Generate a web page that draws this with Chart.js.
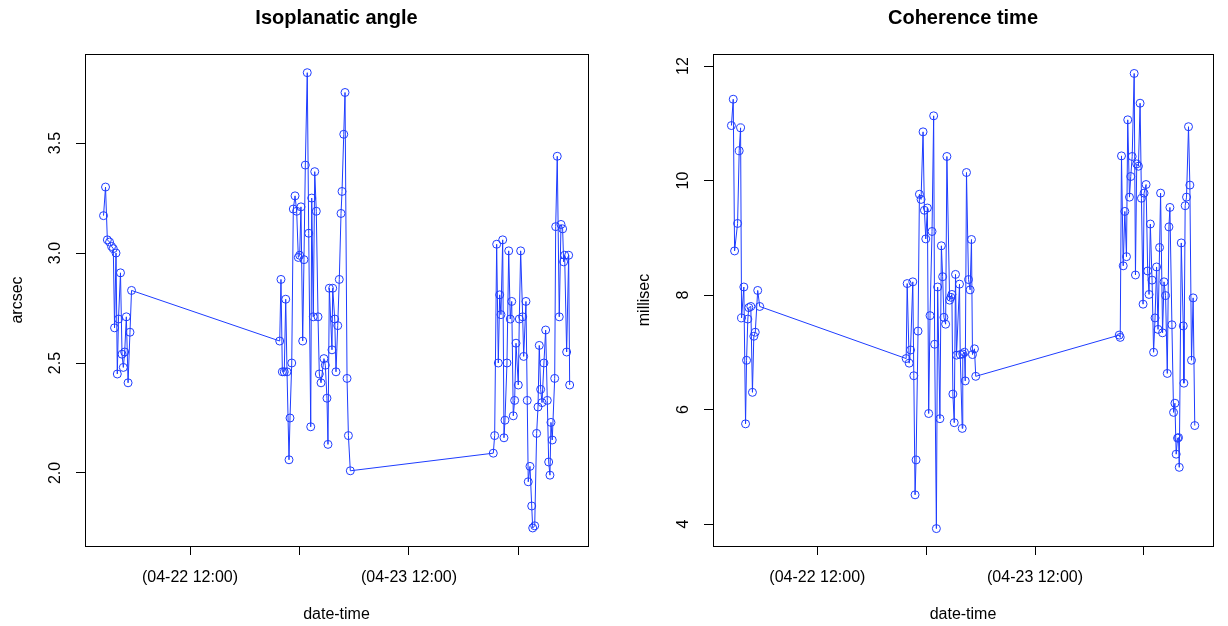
<!DOCTYPE html>
<html>
<head>
<meta charset="utf-8">
<script src="https://cdn.jsdelivr.net/npm/chart.js@4.4.1/dist/chart.umd.min.js"></script>
<style>
  html, body { margin: 0; padding: 0; background: #fff; }
  #wrap { display: flex; width: 1228px; height: 626px; }
  canvas { display: block; }
</style>
</head>
<body>
<div id="wrap">
  <canvas id="iso" width="614" height="626"></canvas>
  <canvas id="coh" width="614" height="626"></canvas>
</div>
<script>
// hours since 04-22 00:00
const xTickHours = [12, 24, 36, 48];
const xTickLabels = ["(04-22 12:00)", "", "(04-23 12:00)", ""];

const isoTicks = [2.0, 2.5, 3.0, 3.5];
const cohTicks = [4, 6, 8, 10, 12];

const isoTime = [2.52, 2.74, 2.94, 3.18, 3.40, 3.59, 3.73, 3.89, 4.03, 4.16, 4.38, 4.55, 4.69, 4.84, 5.02, 5.21, 5.42, 5.59,
  21.83, 21.97, 22.12, 22.33, 22.49, 22.63, 22.85, 22.96, 23.15, 23.32, 23.51, 23.69, 23.87, 24.02, 24.16, 24.35, 24.49, 24.64,
  24.85, 25.01, 25.23, 25.34, 25.51, 25.67, 25.84, 26.03, 26.17, 26.36, 26.68, 26.83, 27.01, 27.12, 27.27, 27.56, 27.64, 27.86,
  28.00, 28.19, 28.36, 28.55, 28.66, 28.85, 28.99, 29.21, 29.36, 29.57,
  45.24, 45.39, 45.61, 45.79, 45.94, 46.08, 46.27, 46.41, 46.52, 46.74, 46.93, 47.10, 47.26, 47.43, 47.58, 47.73, 47.98, 48.09,
  48.24, 48.46, 48.57, 48.82, 48.96, 49.07, 49.26, 49.45, 49.56, 49.78, 49.99, 50.14, 50.28, 50.43, 50.58, 50.79, 50.98, 51.16,
  51.31, 51.45, 51.56, 51.70, 51.97, 52.08, 52.25, 52.47, 52.66, 52.84, 52.95, 53.06, 53.28, 53.50, 53.61];
const isoValue = [3.17, 3.30, 3.06, 3.05, 3.03, 3.02, 2.66, 3.00, 2.45, 2.70, 2.91, 2.54, 2.48, 2.55, 2.71, 2.41, 2.64, 2.83,
  2.60, 2.88, 2.46, 2.46, 2.79, 2.46, 2.06, 2.25, 2.50, 3.20, 3.26, 3.19, 2.98, 2.99, 3.21, 2.60, 2.97, 3.40,
  3.82, 3.09, 2.21, 3.25, 2.71, 3.37, 3.19, 2.71, 2.45, 2.41, 2.52, 2.49, 2.34, 2.13, 2.84, 2.56, 2.84, 2.70,
  2.46, 2.67, 2.88, 3.18, 3.28, 3.54, 3.73, 2.43, 2.17, 2.01,
  2.09, 2.17, 3.04, 2.50, 2.81, 2.72, 3.06, 2.16, 2.24, 2.50, 3.01, 2.70, 2.78, 2.26, 2.33, 2.59, 2.40, 2.70,
  3.01, 2.71, 2.53, 2.78, 2.33, 1.96, 2.03, 1.85, 1.75, 1.76, 2.18, 2.30, 2.58, 2.38, 2.32, 2.50, 2.65, 2.33,
  2.05, 1.99, 2.23, 2.15, 2.43, 3.12, 3.44, 2.71, 3.13, 3.11, 2.96, 2.99, 2.55, 2.99, 2.40];

const cohTime = [2.52, 2.72, 2.87, 3.20, 3.38, 3.53, 3.64, 3.89, 4.08, 4.19, 4.33, 4.44, 4.66, 4.84, 4.99, 5.15, 5.42, 5.64,
  21.79, 21.90, 22.12, 22.27, 22.52, 22.63, 22.77, 22.88, 23.10, 23.25, 23.43, 23.65, 23.80, 23.95, 24.13, 24.27, 24.42, 24.64,
  24.82, 24.93, 25.12, 25.26, 25.51, 25.67, 25.81, 25.95, 26.14, 26.28, 26.58, 26.72, 26.83, 26.94, 27.09, 27.23, 27.34, 27.67,
  27.75, 27.97, 28.03, 28.22, 28.30, 28.44, 28.66, 28.84, 28.99, 29.10, 29.32, 29.46,
  45.28, 45.39, 45.53, 45.72, 45.90, 46.08, 46.22, 46.41, 46.55, 46.71, 46.93, 47.07, 47.21, 47.40, 47.58, 47.73, 47.91, 48.02,
  48.24, 48.42, 48.57, 48.71, 48.90, 49.07, 49.23, 49.40, 49.56, 49.73, 49.84, 50.06, 50.22, 50.39, 50.58, 50.76, 50.87, 51.09,
  51.27, 51.42, 51.56, 51.71, 51.82, 51.90, 52.12, 52.34, 52.41, 52.55, 52.70, 52.92, 53.07, 53.25, 53.43, 53.61];
const cohValue = [10.96, 11.42, 8.77, 9.25, 10.52, 10.92, 7.60, 8.14, 5.75, 6.86, 7.58, 7.78, 7.80, 6.30, 7.28, 7.35, 8.08, 7.80,
  6.89, 8.20, 6.81, 7.04, 8.23, 6.59, 4.51, 5.12, 7.37, 9.76, 9.67, 10.85, 9.48, 8.98, 9.52, 5.93, 7.64, 9.11,
  11.13, 7.14, 3.92, 8.14, 5.84, 8.86, 8.32, 7.61, 7.49, 10.42, 7.91, 7.96, 8.01, 6.27, 5.77, 8.36, 6.95, 8.19,
  6.96, 5.67, 6.97, 7.00, 6.50, 10.14, 8.27, 8.09, 8.97, 6.96, 7.06, 6.58,
  7.30, 7.26, 10.43, 8.51, 9.46, 8.67, 11.06, 9.71, 10.07, 10.42, 11.87, 8.35, 10.29, 10.25, 11.35, 9.69, 7.84, 9.78,
  9.93, 8.42, 8.01, 9.24, 8.26, 7.00, 7.60, 8.49, 7.40, 8.83, 9.78, 7.34, 8.23, 7.99, 6.63, 9.19, 9.53, 7.48,
  5.95, 6.11, 5.22, 5.50, 5.51, 4.99, 8.91, 7.46, 6.46, 9.56, 9.71, 10.94, 9.92, 6.86, 7.95, 5.72];

const BLUE = "rgb(30,60,255)";

Chart.defaults.font.family = '"Liberation Sans", Arial, Helvetica, sans-serif';
Chart.defaults.color = "#000";

// R style box round the plot region
const frameBox = {
  id: "frameBox",
  afterDraw(chart) {
    const { ctx, chartArea: a } = chart;
    ctx.save();
    ctx.strokeStyle = "#000";
    ctx.lineWidth = 1;
    ctx.strokeRect(a.left + 0.5, a.top + 0.5, a.right - a.left, a.bottom - a.top);
    ctx.restore();
  }
};

function panel(id, p) {
  return new Chart(document.getElementById(id), {
    type: "scatter",
    data: {
      datasets: [{
        data: p.times.map((t, i) => ({ x: t, y: p.values[i] })),
        showLine: true,
        borderColor: BLUE,
        borderWidth: 1,
        tension: 0,
        pointStyle: "circle",
        pointRadius: 4,
        pointBorderWidth: 1,
        pointBorderColor: BLUE,
        pointBackgroundColor: "rgba(0,0,0,0)"
      }]
    },
    options: {
      responsive: false,
      animation: false,
      layout: { padding: { left: 0, right: p.padRight, top: 0, bottom: 0 } },
      plugins: {
        legend: { display: false },
        tooltip: { enabled: false },
        title: {
          display: true, text: p.title, fullSize: false, color: "#000",
          font: { size: 20, weight: "bold" },
          padding: { top: 6.5, bottom: 23.5 }
        }
      },
      scales: {
        x: {
          type: "linear", min: 0.49, max: 55.62,
          afterFit: s => { s.height = 80; },
          afterBuildTicks: s => { s.ticks = xTickHours.map(v => ({ value: v })); },
          ticks: { autoSkip: false, maxRotation: 0, padding: 13, font: { size: 16 },
                   callback: (v, i) => xTickLabels[i] },
          grid: { drawOnChartArea: false, drawTicks: true, tickLength: 9, color: "#000" },
          border: { display: false },
          title: { display: true, text: "date-time", font: { size: 16 }, padding: { top: 0, bottom: 1.5 } }
        },
        y: {
          type: "linear", min: p.yMin, max: p.yMax,
          afterFit: s => { s.width = p.yWidth; },
          afterBuildTicks: s => { s.ticks = p.ticks.map(v => ({ value: v })); },
          ticks: { autoSkip: false, minRotation: 90, maxRotation: 90, crossAlign: "center",
                   padding: p.tickPad, font: { size: 16 }, callback: p.fmt },
          grid: { drawOnChartArea: false, drawTicks: true, tickLength: 9, color: "#000" },
          border: { display: false },
          title: { display: true, text: p.yTitle, font: { size: 16 }, padding: { top: p.titlePad, bottom: 0 } }
        }
      }
    },
    plugins: [frameBox]
  });
}

panel("iso", {
  title: "Isoplanatic angle", yTitle: "arcsec",
  times: isoTime, values: isoValue, ticks: isoTicks,
  yMin: 1.668, yMax: 3.905, fmt: v => v.toFixed(1),
  yWidth: 85, padRight: 26, tickPad: 8.9, titlePad: 8.4
});

panel("coh", {
  title: "Coherence time", yTitle: "millisec",
  times: cohTime, values: cohValue, ticks: cohTicks,
  yMin: 3.616, yMax: 12.21, fmt: v => String(v),
  yWidth: 99, padRight: 15, tickPad: 11.6, titlePad: 21.4
});
</script>
</body>
</html>
